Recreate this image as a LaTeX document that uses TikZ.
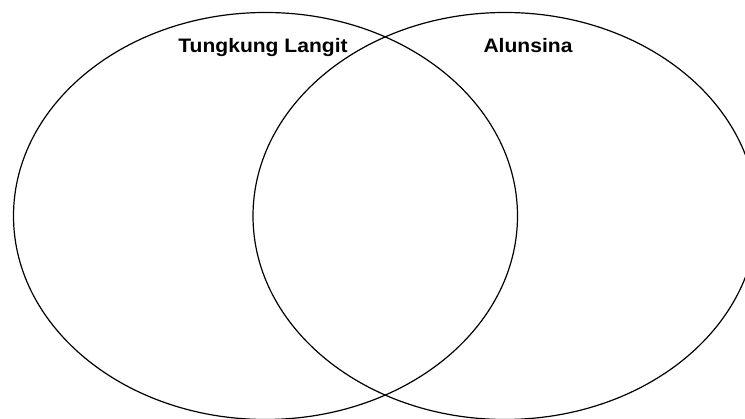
\documentclass[tikz,border=0pt]{standalone}
\usepackage{fontspec}
\setmainfont{Liberation Sans}
\usetikzlibrary{shapes.geometric}

\begin{document}
\begin{tikzpicture}[
    x=1pt, y=1pt,
    set/.style={ellipse,draw,line width=1.2pt,minimum width=504pt,minimum height=407pt,inner sep=0pt},
    setname/.style={anchor=base,font=\bfseries\fontsize{19.5}{22}\selectfont,inner sep=0pt,xscale=1.08}
]
\useasboundingbox (0,0) rectangle (745,419);
\clip (0,0) rectangle (745,419);
\node[set] (L) at (265.5,203) {};
\node[set] (A) at (505,203) {};

\node[setname] (tl) at (263,366) {Tungkung Langit};
\node[setname] (al) at (528,366) {Alunsina};
\end{tikzpicture}
\end{document}
